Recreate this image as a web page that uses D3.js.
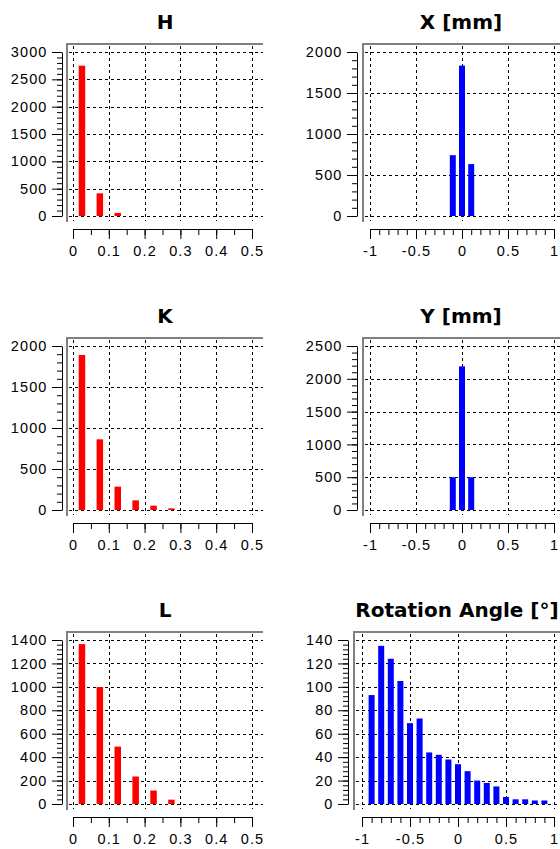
<!DOCTYPE html>
<meta charset="utf-8">
<style>
  body { margin: 0; background: #fff; }
  .tickLab { font-family: "Liberation Sans", Arial, sans-serif; font-size: 14.5px; letter-spacing: 1.1px; fill: #000; }
  .title { font-family: "DejaVu Sans", sans-serif; font-weight: bold; font-size: 20px; fill: #000; }
</style>
<script src="https://cdn.jsdelivr.net/npm/d3@7"></script>
<div id="chart"></div>
<script>
  // histogram bin centres and counts
  var hCenters = [0.025, 0.075, 0.125];
  var hCounts = [2750, 415, 55];
  var kCenters = [0.025, 0.075, 0.125, 0.175, 0.225, 0.275];
  var kCounts = [1890, 862, 285, 118, 53, 20];
  var lCenters = [0.025, 0.075, 0.125, 0.175, 0.225, 0.275];
  var lCounts = [1365, 998, 490, 235, 115, 37];
  var xCenters = [-0.1, 0, 0.1];
  var xCounts = [742, 1834, 633];
  var yCenters = [-0.1, 0, 0.1];
  var yCounts = [500, 2190, 500];
  var rotCenters = [-0.9, -0.8, -0.7, -0.6, -0.5, -0.4, -0.3, -0.2, -0.1, 0, 0.1, 0.2, 0.3, 0.4, 0.5, 0.6, 0.7, 0.8, 0.9];
  var rotCounts = [93, 135, 124, 105, 69, 73, 44, 42, 38, 34, 28, 20, 18, 15, 6, 4, 4, 3, 3];

  // tick labels
  var leftXTicks = [0, 0.1, 0.2, 0.3, 0.4, 0.5];
  var leftXLabels = ["0", "0.1", "0.2", "0.3", "0.4", "0.5"];
  var rightXTicks = [-1, -0.5, 0, 0.5, 1];
  var rightXLabels = ["-1", "-0.5", "0", "0.5", "1"];
  var hYTicks = [0, 500, 1000, 1500, 2000, 2500, 3000];
  var kYTicks = [0, 500, 1000, 1500, 2000];
  var lYTicks = [0, 200, 400, 600, 800, 1000, 1200, 1400];
  var xYTicks = [0, 500, 1000, 1500, 2000];
  var yYTicks = [0, 500, 1000, 1500, 2000, 2500];
  var rotYTicks = [0, 20, 40, 60, 80, 100, 120, 140];

  var titles = ["H", "K", "L", "X [mm]", "Y [mm]", "Rotation Angle [\u00b0]"];

  var W = 560, H = 849;
  var plotH = 164;
  var rowTop = [52, 346, 640];

  var svg = d3.select("#chart").append("svg")
      .attr("width", W).attr("height", H)
      .style("display", "block");
  svg.append("rect").attr("width", W).attr("height", H).attr("fill", "#fff");

  var panels = [
    {title: titles[0], row: 0, centers: hCenters, counts: hCounts, yTicks: hYTicks, xTicks: leftXTicks, xLabels: leftXLabels,
     xDom: [0, 0.5], xMinor: 0.05, axisX: 62, frameX: 67, x0: 73, x1: 252, frameR: 263, titleX: 165, barW: 6.5, color: "#ff0000"},
    {title: titles[1], row: 1, centers: kCenters, counts: kCounts, yTicks: kYTicks, xTicks: leftXTicks, xLabels: leftXLabels,
     xDom: [0, 0.5], xMinor: 0.05, axisX: 62, frameX: 67, x0: 73, x1: 252, frameR: 263, titleX: 165, barW: 6.5, color: "#ff0000"},
    {title: titles[2], row: 2, centers: lCenters, counts: lCounts, yTicks: lYTicks, xTicks: leftXTicks, xLabels: leftXLabels,
     xDom: [0, 0.5], xMinor: 0.05, axisX: 62, frameX: 67, x0: 73, x1: 252, frameR: 263, titleX: 165, barW: 6.5, color: "#ff0000"},
    {title: titles[3], row: 0, centers: xCenters, counts: xCounts, yTicks: xYTicks, xTicks: rightXTicks, xLabels: rightXLabels,
     xDom: [-1, 1], xMinor: 0.1, axisX: 357, frameX: 363, x0: 370, x1: 554, frameR: 566, titleX: 461, barW: 6, color: "#0000ff"},
    {title: titles[4], row: 1, centers: yCenters, counts: yCounts, yTicks: yYTicks, xTicks: rightXTicks, xLabels: rightXLabels,
     xDom: [-1, 1], xMinor: 0.1, axisX: 357, frameX: 363, x0: 370, x1: 554, frameR: 566, titleX: 461, barW: 6, color: "#0000ff"},
    {title: titles[5], row: 2, centers: rotCenters, counts: rotCounts, yTicks: rotYTicks, xTicks: rightXTicks, xLabels: rightXLabels,
     xDom: [-1, 1], xMinor: 0.1, axisX: 348, frameX: 354, x0: 362, x1: 554, frameR: 566, titleX: 457, barW: 6, color: "#0000ff"}
  ];

  panels.forEach(drawPanel);

  function drawPanel(p) {
    var top = rowTop[p.row], bot = top + plotH;
    var yDom = [0, d3.max(p.yTicks)];
    var xs = d3.scaleLinear().domain(p.xDom).range([p.x0, p.x1]);
    var ys = d3.scaleLinear().domain(yDom).range([bot, top]);
    var frameTop = top - 8, frameBot = bot + 6;
    var g = svg.append("g");

    // title
    g.append("text").attr("class", "title")
      .attr("x", p.titleX).attr("y", top - 23)
      .attr("text-anchor", "middle")
      .text(p.title);

    // dashed grid
    g.selectAll("line.vgrid").data(p.xTicks).enter().append("line")
      .attr("class", "vgrid")
      .attr("x1", function(d) { return Math.round(xs(d)) + 0.5; })
      .attr("x2", function(d) { return Math.round(xs(d)) + 0.5; })
      .attr("y1", frameTop + 2).attr("y2", frameBot - 1)
      .attr("stroke", "#000").attr("stroke-dasharray", "3,3");
    g.selectAll("line.hgrid").data(p.yTicks).enter().append("line")
      .attr("class", "hgrid")
      .attr("y1", function(d) { return Math.round(ys(d)) + 0.5; })
      .attr("y2", function(d) { return Math.round(ys(d)) + 0.5; })
      .attr("x1", p.frameX + 2).attr("x2", p.frameR)
      .attr("stroke", "#000").attr("stroke-dasharray", "3,3");

    // gray sunken frame (top and left edges)
    g.append("line").attr("x1", p.frameX - 1).attr("x2", p.frameR)
      .attr("y1", frameTop).attr("y2", frameTop)
      .attr("stroke", "#808080").attr("stroke-width", 2);
    g.append("line").attr("x1", p.frameX).attr("x2", p.frameX)
      .attr("y1", frameTop).attr("y2", frameBot)
      .attr("stroke", "#808080").attr("stroke-width", 2);

    // bars
    var bins = p.centers.map(function(c, i) { return {c: c, v: p.counts[i]}; });
    g.selectAll("rect.bar").data(bins).enter().append("rect")
      .attr("class", "bar")
      .attr("x", function(d) { return xs(d.c) - p.barW / 2; })
      .attr("width", p.barW)
      .attr("y", function(d) { return ys(d.v); })
      .attr("height", function(d) { return ys(0) - ys(d.v); })
      .attr("fill", p.color);

    // y axis: minor then major ticks (d3 adds the half-pixel offset itself)
    var yStep = p.yTicks[1] - p.yTicks[0];
    var yMinor = d3.range(0, yDom[1] + 1e-9, yStep / 5);
    var yMinorAx = g.append("g").attr("transform", "translate(" + p.axisX + ",0)")
      .call(d3.axisLeft(ys).tickValues(yMinor).tickSize(5).tickSizeOuter(0).tickFormat(""));
    yMinorAx.select(".domain").remove();
    var yAx = g.append("g").attr("transform", "translate(" + p.axisX + ",0)")
      .call(d3.axisLeft(ys).tickValues(p.yTicks).tickSize(10).tickSizeOuter(0).tickPadding(4.5)
        .tickFormat(function(d) { return String(d); }));
    yAx.selectAll("text").attr("class", "tickLab").attr("font-size", null).attr("font-family", null);

    // x axis below the frame
    var xAxY = bot + 13;
    var xMinor = d3.range(p.xDom[0], p.xDom[1] + 1e-9, p.xMinor);
    var xMinorAx = g.append("g").attr("transform", "translate(0," + xAxY + ")")
      .call(d3.axisBottom(xs).tickValues(xMinor).tickSize(6).tickSizeOuter(0).tickFormat(""));
    xMinorAx.select(".domain").remove();
    var xAx = g.append("g").attr("transform", "translate(0," + xAxY + ")")
      .call(d3.axisBottom(xs).tickValues(p.xTicks).tickSize(10).tickSizeOuter(0).tickPadding(7)
        .tickFormat(function(d, i) { return p.xLabels[i]; }));
    xAx.selectAll("text").attr("class", "tickLab").attr("font-size", null).attr("font-family", null);

    g.selectAll(".tick line").attr("stroke", "#000");
    g.selectAll(".domain").attr("stroke", "#000");
  }
</script>
